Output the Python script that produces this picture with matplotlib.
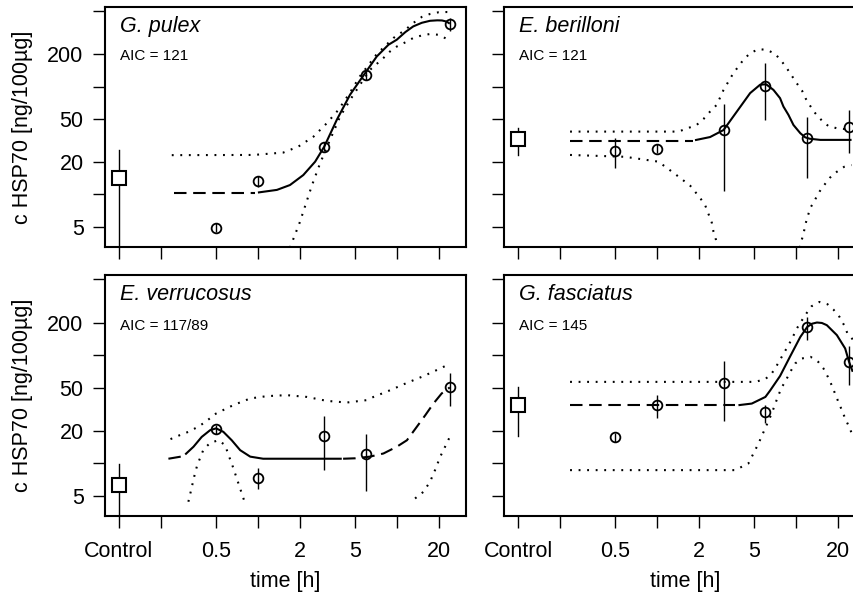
import numpy as np
import matplotlib
matplotlib.use("Agg")
import matplotlib.pyplot as plt
from matplotlib.ticker import NullLocator, FixedLocator, FixedFormatter

plt.rcParams['font.family'] = ['Liberation Sans', 'DejaVu Sans']

# ---------------- data ----------------
x_ticks = [0.1, 0.2, 0.5, 1, 2, 5, 10, 20]
x_ticklabels = ['Control', '', '0.5', '', '2', '5', '', '20']
y_ticks = [5, 10, 20, 50, 100, 200, 500]
y_ticklabels = ['5', '', '20', '50', '', '200', '']
control_x = 0.1

species = ['G. pulex', 'E. berilloni', 'E. verrucosus', 'G. fasciatus']
aic_labels = ['AIC = 121', 'AIC = 121', 'AIC = 117/89', 'AIC = 145']

# G. pulex
gp_ctrl = [14.3, 1.0, 25.8]  # mean, low, high
gp_t = [0.5, 1, 3, 6, 24]
gp_mean = [4.9, 13.3, 27.7, 128, 383]
gp_lo = [4.45, 11.8, 25.2, 116, 325]
gp_hi = [5.4, 14.9, 30.5, 141, 432]
gp_dash_t = [0.25, 0.95]
gp_dash_v = [10.4, 10.4]
gp_fit_t = [1.0, 1.37, 1.70, 2.12, 2.58, 3.0, 3.69, 4.6, 5.9, 7.16, 8.69, 9.98, 11.5, 13.1, 15.1, 17.3, 19.5, 21.1, 22.8, 24]
gp_fit_v = [10.4, 11.0, 12.2, 15.1, 20.1, 27.7, 49, 84, 133, 190, 244, 272, 320, 361, 390, 407, 411, 410, 400, 383]
gp_up_t = [0.24, 0.93, 1.52, 1.95, 2.51, 3.13, 3.79, 4.6, 5.43, 7.16, 9.44, 11.5, 13.1, 15.1, 17.3, 19.9, 22.9, 24]
gp_up_v = [23.1, 23.2, 24.4, 27.7, 34.3, 45.7, 60.7, 88, 125, 200, 282, 336, 388, 442, 471, 488, 491, 490]
gp_low_t = [1.7, 2.0, 2.44, 2.8, 3.3, 3.9, 4.6, 5.43, 6.41, 8.0, 8.9, 9.98, 11.5, 13.1, 15.1, 17.3, 19.9, 22.9, 24]
gp_low_v = [3.2, 5.5, 12.0, 19.4, 32, 52.6, 75, 104, 143, 184, 211, 235, 257, 282, 298, 307, 302, 276, 268]

# E. berilloni
eb_ctrl = [32.4, 23.2, 41.0]
eb_t = [0.5, 1, 3, 6, 12, 24]
eb_mean = [25.4, 26.4, 39.5, 102, 33.6, 42.5]
eb_lo = [17.5, 24.0, 10.8, 49, 14.1, 24]
eb_hi = [33.1, 29.0, 68.5, 167, 52.6, 60.6]
eb_dash_t = [0.236, 1.8]
eb_dash_v = [31.5, 31.5]
eb_fit_t = [1.87, 2.40, 3.0, 3.74, 4.66, 5.5, 6.07, 6.86, 7.65, 8.09, 8.79, 9.55, 10.7, 11.6, 12.5, 14.9, 25]
eb_fit_v = [31.8, 34, 39.5, 58.6, 86.9, 104, 105, 93, 78, 65.2, 54.6, 44, 36.9, 33.8, 32.8, 32, 32]
eb_up_t = [0.236, 1.42, 1.92, 2.15, 2.40, 2.68, 3.0, 3.25, 3.53, 4.17, 4.66, 5.35, 6.14, 7.05, 7.87, 8.55, 9.29, 10.1, 11, 11.7, 12.6, 13.7, 15.3, 17, 19.6, 24]
eb_up_v = [38.2, 38.2, 44, 49.9, 58.6, 67.6, 93, 111, 133, 177, 204, 222, 219, 201, 171, 148, 126, 107, 91.8, 77.3, 66.2, 56.6, 48.3, 43.1, 41, 40]
eb_low1_t = [0.236, 0.587, 1.02, 1.34, 1.73, 2.03, 2.21, 2.33, 2.47, 2.54, 2.65, 2.72]
eb_low1_v = [23.2, 22.3, 20.1, 15.5, 12.0, 9.3, 7.96, 6.65, 5.46, 4.5, 3.77, 3.2]
eb_low2_t = [10.6, 10.8, 11.3, 11.6, 12.1, 12.7, 13.7, 14.7, 15.9, 17.5, 19.6, 22.1, 25]
eb_low2_v = [3.2, 3.55, 4.34, 5.18, 6.29, 7.57, 8.99, 10.6, 12.2, 14.3, 16.2, 18.0, 18.7]

# E. verrucosus
ev_ctrl = [6.27, 1.0, 9.74]
ev_t = [0.5, 1, 3, 6, 24]
ev_mean = [20.5, 7.3, 17.9, 12.05, 50.2]
ev_lo = [18.6, 5.73, 8.63, 5.56, 33.9]
ev_hi = [22.6, 8.96, 27.4, 18.6, 67.6]
ev_dash1_t = [0.227, 0.29]
ev_dash1_v = [11.0, 11.6]
ev_fit_t = [0.30, 0.344, 0.394, 0.453, 0.5, 0.564, 0.648, 0.745, 0.88, 1.09, 4.01]
ev_fit_v = [12.05, 14.2, 17.5, 20.2, 21, 19.5, 16.3, 13.2, 11.5, 11.0, 11.0]
ev_dash2_t = [4.1, 5.0, 6.4, 8, 9.98, 11.8, 13.9, 16, 18.3, 21, 24]
ev_dash2_v = [11.0, 11.1, 11.5, 12.3, 14.2, 16.3, 21.7, 27.8, 35.6, 44.2, 50.2]
ev_up_t = [0.235, 0.275, 0.316, 0.363, 0.41, 0.5, 0.667, 0.88, 1.16, 1.61, 2.25, 3.13, 4.36, 6.07, 6.78, 8.94, 11.8, 15.5, 20.5, 23.7]
ev_up_v = [16.7, 18.2, 19.5, 21.4, 23.6, 28.8, 34.5, 39.7, 41.7, 42.6, 41, 37.7, 36.4, 38.3, 41, 47.3, 55.3, 63.8, 75.2, 82.4]
ev_low1_t = [0.316, 0.328, 0.339, 0.352, 0.366, 0.384, 0.406, 0.453, 0.519, 0.581, 0.614, 0.648, 0.686, 0.724, 0.765, 0.809]
ev_low1_v = [4.4, 5.4, 6.5, 8.0, 9.6, 11.2, 13.4, 15.4, 16.3, 14.7, 11.9, 9.95, 8.0, 6.5, 5.26, 4.25]
ev_low2_t = [13.5, 15.5, 17.3, 18.8, 20.5, 22.2, 24]
ev_low2_v = [4.72, 5.43, 6.73, 8.63, 11.5, 14.2, 17.5]

# G. fasciatus
gf_ctrl = [34.4, 17.9, 50.2]
gf_t = [0.5, 1, 3, 6, 12, 24]
gf_mean = [17.3, 34.9, 55.3, 29.8, 182, 86.5]
gf_lo = [15.7, 26.2, 24.7, 23.6, 137, 52.6]
gf_hi = [19.0, 42.6, 87.7, 34.4, 225, 121]
gf_dash_t = [0.236, 3.63]
gf_dash_v = [34.4, 34.4]
gf_fit_t = [3.84, 4.79, 6.0, 6.49, 7.65, 9.0, 10.7, 12, 13.0, 14.1, 15.3, 16.6, 19.6, 22.5, 24, 25.5]
gf_fit_v = [34.4, 35.6, 41, 47, 64, 96.1, 147, 182, 195, 200, 198, 189, 153, 115, 86.5, 70]
gf_up_t = [0.236, 5.07, 6.0, 6.66, 7.05, 7.57, 8.17, 8.79, 9.45, 10.1, 11, 11.9, 12.9, 14.7, 16.8, 18.5, 20.5, 22.1, 23.3, 25.8]
gf_up_v = [56.5, 56.5, 60, 67.6, 75.2, 88.3, 105, 123, 147, 176, 210, 245, 283, 310, 295, 264, 225, 189, 160, 137]
gf_low_t = [0.236, 3.63, 4.53, 5.35, 6.66, 7.05, 7.45, 7.87, 8.48, 9.15, 9.82, 11, 12.7, 14.4, 15.7, 16.9, 18, 19, 20.1, 21.3, 22.5, 24, 25.4]
gf_low_v = [8.63, 8.63, 9.95, 15.2, 28.8, 35.2, 42.6, 50.2, 59.4, 71.4, 83.6, 93, 96.2, 86.5, 75.2, 62.8, 52.6, 44.2, 36.9, 30.9, 25.9, 21.7, 18.2]

# ---------------- figure ----------------
W, H = 854, 595
fig = plt.figure(figsize=(W / 100, H / 100), dpi=100)

def px_rect(left, top, width, height):
    return [left / W, 1 - (top + height) / H, width / W, height / H]

ax_tl = fig.add_axes(px_rect(105, 6.7, 361, 240))
ax_tr = fig.add_axes(px_rect(504.3, 6.7, 361, 240))
ax_bl = fig.add_axes(px_rect(105, 275, 361, 240.7))
ax_br = fig.add_axes(px_rect(504.3, 275, 361, 240.7))

FS = 15.5
LW = 1.5
DASH = (0, (6.0, 3.2))
DOT = (0, (0.9, 3.2))

def style_axes(ax, left_labels, bottom_labels):
    ax.set_xscale('log')
    ax.set_yscale('log')
    ax.set_xlim(0.0794, 31.4)
    ax.set_ylim(3.27, 550)
    ax.xaxis.set_major_locator(FixedLocator(x_ticks))
    ax.yaxis.set_major_locator(FixedLocator(y_ticks))
    ax.xaxis.set_minor_locator(NullLocator())
    ax.yaxis.set_minor_locator(NullLocator())
    if bottom_labels:
        ax.xaxis.set_major_formatter(FixedFormatter(x_ticklabels))
    else:
        ax.xaxis.set_major_formatter(FixedFormatter([''] * len(x_ticks)))
    if left_labels:
        ax.yaxis.set_major_formatter(FixedFormatter(y_ticklabels))
    else:
        ax.yaxis.set_major_formatter(FixedFormatter([''] * len(y_ticks)))
    ax.tick_params(axis='both', direction='out', length=8.4, width=1.0,
                   labelsize=FS, colors='black')
    ax.tick_params(axis='x', pad=10)
    ax.tick_params(axis='y', pad=7)
    for s in ax.spines.values():
        s.set_linewidth(LW)
        s.set_color('black')

def draw_points(ax, ctrl, t, mean, lo, hi):
    ax.plot([control_x, control_x], [ctrl[1], ctrl[2]], color='black', lw=1.0, zorder=3)
    ax.plot([control_x], [ctrl[0]], marker='s', ms=9.6, mfc='white', mec='black',
            mew=1.5, ls='none', zorder=4)
    ax.vlines(t, lo, hi, color='black', lw=1.0, zorder=3)
    ax.plot(t, mean, marker='o', ms=7.0, mfc='none', mec='black', mew=1.3,
            ls='none', zorder=4)

def line(ax, t, v, ls):
    ax.plot(t, v, color='black', lw=LW, linestyle=ls, zorder=2,
            solid_capstyle='butt', dash_capstyle='butt', solid_joinstyle='round')

# G. pulex
style_axes(ax_tl, True, False)
line(ax_tl, gp_dash_t, gp_dash_v, DASH)
line(ax_tl, gp_fit_t, gp_fit_v, '-')
line(ax_tl, gp_up_t, gp_up_v, DOT)
line(ax_tl, gp_low_t, gp_low_v, DOT)
draw_points(ax_tl, gp_ctrl, gp_t, gp_mean, gp_lo, gp_hi)

# E. berilloni
style_axes(ax_tr, False, False)
line(ax_tr, eb_dash_t, eb_dash_v, DASH)
line(ax_tr, eb_fit_t, eb_fit_v, '-')
line(ax_tr, eb_up_t, eb_up_v, DOT)
line(ax_tr, eb_low1_t, eb_low1_v, DOT)
line(ax_tr, eb_low2_t, eb_low2_v, DOT)
draw_points(ax_tr, eb_ctrl, eb_t, eb_mean, eb_lo, eb_hi)

# E. verrucosus
style_axes(ax_bl, True, True)
line(ax_bl, ev_dash1_t, ev_dash1_v, DASH)
line(ax_bl, ev_fit_t, ev_fit_v, '-')
line(ax_bl, ev_dash2_t, ev_dash2_v, DASH)
line(ax_bl, ev_up_t, ev_up_v, DOT)
line(ax_bl, ev_low1_t, ev_low1_v, DOT)
line(ax_bl, ev_low2_t, ev_low2_v, DOT)
draw_points(ax_bl, ev_ctrl, ev_t, ev_mean, ev_lo, ev_hi)

# G. fasciatus
style_axes(ax_br, False, True)
line(ax_br, gf_dash_t, gf_dash_v, DASH)
line(ax_br, gf_fit_t, gf_fit_v, '-')
line(ax_br, gf_up_t, gf_up_v, DOT)
line(ax_br, gf_low_t, gf_low_v, DOT)
draw_points(ax_br, gf_ctrl, gf_t, gf_mean, gf_lo, gf_hi)

for ax, name, aic, ty, ay in [(ax_tl, species[0], aic_labels[0], 0.893, 0.778),
                              (ax_tr, species[1], aic_labels[1], 0.893, 0.778),
                              (ax_bl, species[2], aic_labels[2], 0.896, 0.770),
                              (ax_br, species[3], aic_labels[3], 0.896, 0.770)]:
    ax.text(0.0416, ty, name, transform=ax.transAxes, fontsize=FS,
            fontstyle='italic', va='baseline', ha='left')
    ax.text(0.0416, ay, aic, transform=ax.transAxes, fontsize=11,
            va='baseline', ha='left')

# axis labels
ylab = 'c HSP70 [ng/100\u00b5g]'
fig.text(23 / W, 1 - 127 / H, ylab, rotation=90, fontsize=FS, ha='center', va='center')
fig.text(23 / W, 1 - 395 / H, ylab, rotation=90, fontsize=FS, ha='center', va='center')
fig.text(285.5 / W, 1 - 582 / H, 'time [h]', fontsize=FS, ha='center', va='center')
fig.text(684.8 / W, 1 - 582 / H, 'time [h]', fontsize=FS, ha='center', va='center')

fig.savefig('out.png', dpi=100)
